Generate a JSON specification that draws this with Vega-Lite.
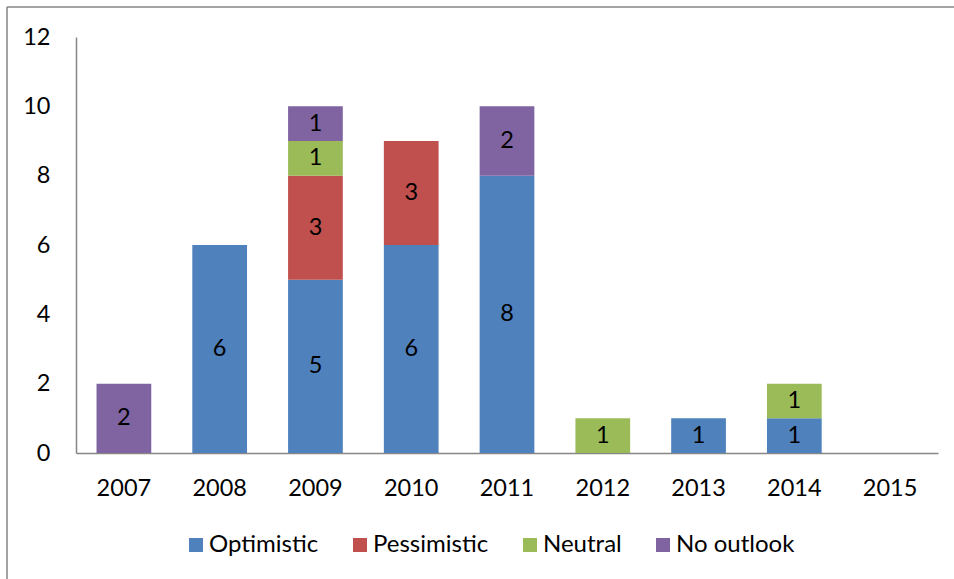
{
  "$schema": "https://vega.github.io/schema/vega-lite/v6.json",
  "width": 947,
  "height": 572,
  "autosize": {"type": "none"},
  "padding": {"left": 7, "top": 7, "right": 0, "bottom": 0},
  "background": "white",
  "config": {
    "view": {"stroke": "#868686", "strokeWidth": 1.5, "strokeDash": [947, 1519, 572, 0]},
    "font": "Lato",
    "axis": {
      "domainColor": "#868686",
      "domainWidth": 1.5,
      "ticks": false,
      "tickSize": 0,
      "grid": false,
      "labelFont": "Lato",
      "labelFontSize": 23.5,
      "labelColor": "#000000",
      "title": null
    },
    "legend": {
      "labelFont": "Lato",
      "labelFontSize": 24,
      "labelColor": "#000000"
    }
  },
  "data": {
    "values": [
      {"year": "2007", "outlook": "No outlook", "n": 2},
      {"year": "2008", "outlook": "Optimistic", "n": 6},
      {"year": "2009", "outlook": "Optimistic", "n": 5},
      {"year": "2009", "outlook": "Pessimistic", "n": 3},
      {"year": "2009", "outlook": "Neutral", "n": 1},
      {"year": "2009", "outlook": "No outlook", "n": 1},
      {"year": "2010", "outlook": "Optimistic", "n": 6},
      {"year": "2010", "outlook": "Pessimistic", "n": 3},
      {"year": "2011", "outlook": "Optimistic", "n": 8},
      {"year": "2011", "outlook": "No outlook", "n": 2},
      {"year": "2012", "outlook": "Neutral", "n": 1},
      {"year": "2013", "outlook": "Optimistic", "n": 1},
      {"year": "2014", "outlook": "Optimistic", "n": 1},
      {"year": "2014", "outlook": "Neutral", "n": 1}
    ]
  },
  "transform": [
    {"calculate": "indexof(['Optimistic','Pessimistic','Neutral','No outlook'], datum.outlook)", "as": "k"},
    {"stack": "n", "groupby": ["year"], "sort": [{"field": "k", "order": "ascending"}], "as": ["v0", "v1"]},
    {"calculate": "(datum.v0 + datum.v1) / 2", "as": "mid"}
  ],
  "encoding": {
    "x": {
      "field": "year",
      "type": "nominal",
      "scale": {
        "domain": ["2007", "2008", "2009", "2010", "2011", "2012", "2013", "2014", "2015"],
        "range": [69, 931],
        "paddingInner": 0.4286,
        "paddingOuter": 0.2143
      },
      "axis": {"orient": "bottom", "offset": -126, "labelAngle": 0, "labelPadding": 23}
    }
  },
  "layer": [
    {
      "mark": {"type": "bar"},
      "encoding": {
        "y": {
          "field": "v0",
          "type": "quantitative",
          "stack": null,
          "scale": {"domain": [0, 12], "range": [446, 30], "nice": false, "zero": true},
          "axis": {"orient": "left", "offset": -69, "values": [0, 2, 4, 6, 8, 10, 12], "labelPadding": 26}
        },
        "y2": {"field": "v1"},
        "color": {
          "field": "outlook",
          "type": "nominal",
          "scale": {
            "domain": ["Optimistic", "Pessimistic", "Neutral", "No outlook"],
            "range": ["#4F81BD", "#C0504D", "#9BBB59", "#8064A2"]
          },
          "legend": {
            "title": null,
            "orient": "none",
            "direction": "horizontal",
            "legendX": 177,
            "legendY": 526,
            "symbolType": "square",
            "symbolSize": 196,
            "symbolStrokeWidth": 0,
            "labelOffset": 1,
            "columnPadding": 29
          }
        }
      }
    },
    {
      "mark": {"type": "text", "fontSize": 23.5, "color": "#000000", "baseline": "middle", "align": "center"},
      "encoding": {
        "y": {"field": "mid", "type": "quantitative"},
        "text": {"field": "n", "type": "quantitative"}
      }
    }
  ]
}
